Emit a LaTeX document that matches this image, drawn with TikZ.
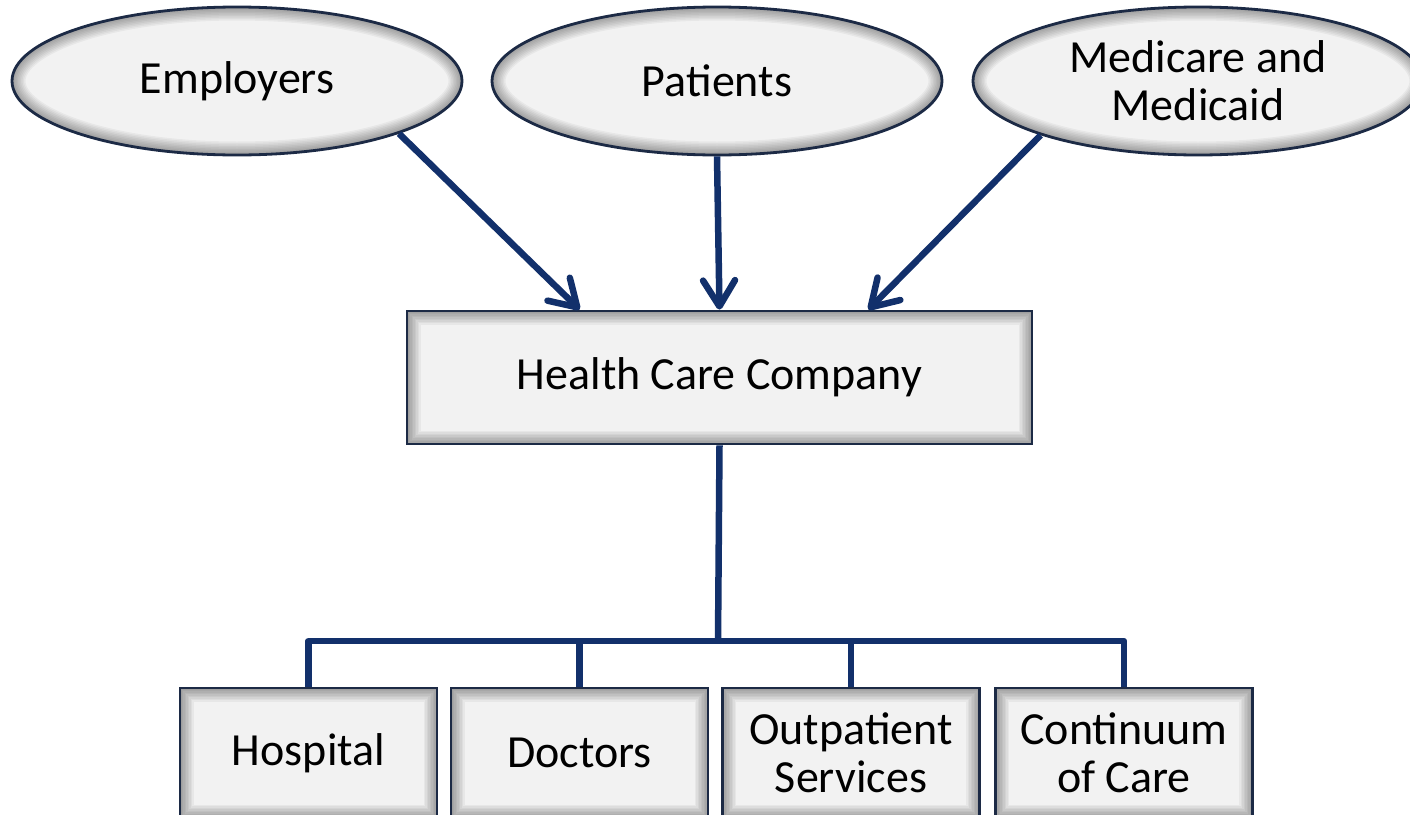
\documentclass[tikz,border=0pt]{standalone}
\usepackage{fontspec}
\setmainfont{Carlito}
\usetikzlibrary{arrows.meta,shapes.geometric,calc}
\definecolor{navy}{HTML}{12306B}
\definecolor{edgecol}{HTML}{1C2A45}
\definecolor{boxfill}{HTML}{F2F2F2}
\tikzset{
  rectshade/.style={path picture={
    \foreach \w in {3,6,...,27}{
      \draw[line width=\w pt, black, opacity=0.045] (path picture bounding box.south west) rectangle (path picture bounding box.north east);}
  }},
  ellshade/.style={path picture={
    \foreach \w in {3,6,...,27}{
      \draw[line width=\w pt, black, opacity=0.045] (path picture bounding box.center) ellipse [x radius=225pt, y radius=74pt];}
  }},
  ellnode/.style={ellipse, draw=edgecol, line width=2.8pt, fill=boxfill, ellshade,
    minimum width=450pt, minimum height=148pt, inner sep=0pt, align=center,
    font=\fontsize{46}{48}\selectfont},
  boxnode/.style={rectangle, draw=edgecol, line width=2.8pt, fill=boxfill, rectshade,
    inner sep=0pt, align=center, font=\fontsize{46}{48}\selectfont},
  conn/.style={draw=navy, line width=6.5pt, line join=round},
  arr/.style={conn, -{Straight Barb[length=26pt, width=32pt, round]}}
}
\begin{document}
\begin{tikzpicture}[x=1pt, y=-1pt]
  \useasboundingbox (0,0) rectangle (1410,814);
  \fill[white] (0,0) rectangle (1410,814);

  \node[ellnode] (emp) at (237,81) {Employers};
  \node[ellnode] (pat) at (717,81) {Patients};
  \node[ellnode] (med) at (1198,81) {Medicare and\\Medicaid};

  \node[boxnode, minimum width=625pt, minimum height=133pt] (hcc) at (719.5,377.5) {Health Care Company};

  \node[boxnode, minimum width=257pt, minimum height=130pt] (hosp) at (308.5,753) {Hospital};
  \node[boxnode, minimum width=257pt, minimum height=130pt] (doc) at (579.5,753) {Doctors};
  \node[boxnode, minimum width=257pt, minimum height=130pt] (outp) at (851,753) {Outpatient\\Services};
  \node[boxnode, minimum width=257pt, minimum height=130pt] (cont) at (1124,753) {Continuum\\of Care};

  \coordinate (bus) at (718,641);

  \draw[arr] (emp.-18.5) -- ([xshift=174pt]hcc.north west);
  \draw[arr] (pat.south) -- (hcc.north);
  \draw[arr] (med.199) -- ([xshift=-165pt]hcc.north east);

  \draw[conn] (hcc.south) -- (bus);
  \draw[conn] (hosp.north) |- (bus) -| (cont.north);
  \draw[conn] (doc.north) -- (doc.north |- bus);
  \draw[conn] (outp.north) -- (outp.north |- bus);
\end{tikzpicture}
\end{document}
